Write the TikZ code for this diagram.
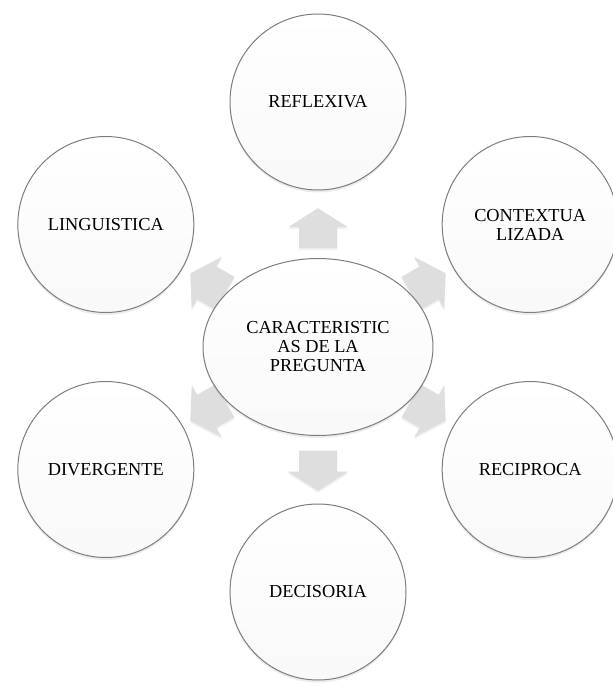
\documentclass[tikz,border=0pt]{standalone}
\usepackage{fontspec}
\setmainfont{Liberation Serif}
\usetikzlibrary{shapes.geometric,calc,shadows,backgrounds}

\definecolor{rasgoborde}{RGB}{125,125,125}
\definecolor{flechagris}{RGB}{222,222,222}

\begin{document}
\begin{tikzpicture}[x=1pt,y=1pt,font=\fontsize{18.3}{19}\selectfont,
    rasgo/.style={circle,draw=rasgoborde,line width=1pt,minimum size=176pt,
      inner sep=0pt,align=center,top color=white,bottom color=gray!5,
      drop shadow={opacity=.15,shadow xshift=0pt,shadow yshift=-2.5pt}},
    tema/.style={ellipse,draw=rasgoborde,line width=1pt,minimum width=230pt,
      minimum height=177pt,inner sep=0pt,align=center,top color=white,
      bottom color=gray!5,
      drop shadow={opacity=.15,shadow xshift=0pt,shadow yshift=-2.5pt}},
    flecha/.style={fill=flechagris,
      drop shadow={opacity=.12,shadow xshift=0pt,shadow yshift=-2pt}}]
    \useasboundingbox (0,0) rectangle (613,686);

    \node[tema] (centro) at (318,339) {CARACTERISTIC\\AS DE LA\\PREGUNTA};

    \node[rasgo] (reflexiva)  at ($(centro)+(90:245)$)  {REFLEXIVA};
    \node[rasgo] (contexto)   at ($(centro)+(30:245)$)  {CONTEXTUA\\LIZADA};
    \node[rasgo] (reciproca)  at ($(centro)+(-30:245)$) {RECIPROCA};
    \node[rasgo] (decisoria)  at ($(centro)+(-90:245)$) {DECISORIA};
    \node[rasgo] (divergente) at ($(centro)+(210:245)$) {DIVERGENTE};
    \node[rasgo] (linguistica) at ($(centro)+(150:245)$) {LINGUISTICA};

    % flechas de bloque hacia cada rasgo, por debajo de los circulos
    \begin{scope}[on background layer]
      \foreach \dest/\ang/\pos in {reflexiva/90/.485,contexto/30/.52,
          reciproca/-30/.52,decisoria/-90/.505,divergente/210/.52,
          linguistica/150/.52} {
        \begin{scope}[shift={($(centro)!\pos!(\dest)$)},rotate=\ang]
          \fill[flecha] (-20,-19) -- (1,-19) -- (1,-30) -- (20,0)
            -- (1,30) -- (1,19) -- (-20,19) -- cycle;
        \end{scope}
      }
    \end{scope}
  \end{tikzpicture}
\end{document}
